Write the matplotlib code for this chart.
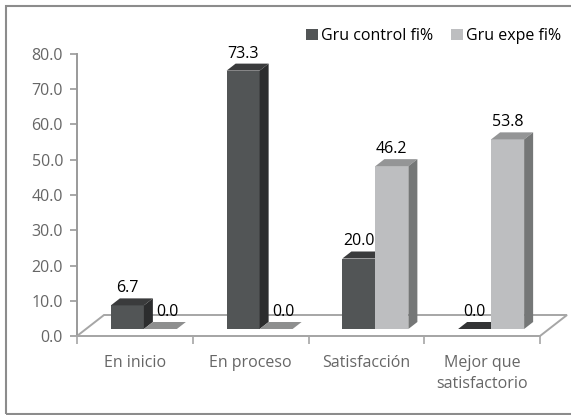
import numpy as np
import matplotlib
matplotlib.use('Agg')
import matplotlib.pyplot as plt
from matplotlib.patches import Polygon, Patch, Rectangle

# data
categories = ['En inicio', 'En proceso', 'Satisfacción', 'Mejor que\nsatisfactorio']
control = [6.7, 73.3, 20.0, 0.0]
expe = [0.0, 0.0, 46.2, 53.8]
series_names = ['Gru control fi%', 'Gru expe fi%']
yticks = [0, 10, 20, 30, 40, 50, 60, 70, 80]

plt.rcParams['font.family'] = ['Open Sans', 'DejaVu Sans']
FS = 11.5

W, H = 571, 415
fig = plt.figure(figsize=(W / 100, H / 100), dpi=100)
ax = fig.add_axes([77 / W, 1 - 336 / H, 463 / W, 282 / H])
ax.set_xlim(-0.5, 3.5)
ax.set_ylim(0, 80)

# 3d depth, in data units (floor depth = 27px x 21px)
px_x = 4 / 463.0
px_y = 80 / 282.0
FX, FY = 27 * px_x, 21 * px_y
DX, DY = FX / 3, FY / 3
bw = 33 * px_x

# floor
floor = Polygon([(-0.5, 0), (3.5, 0), (3.5 + FX, FY), (-0.5 + FX, FY)],
                closed=True, facecolor='white', edgecolor='#a6a6a6', lw=1.4,
                clip_on=False, zorder=1)
ax.add_patch(floor)

styles = [
    dict(front='#525556', top='#3a3b3c', side='#2c2d2e', flat='#333435'),
    dict(front='#bdbec0', top='#949596', side='#757777', flat='#8e8f8f'),
]

x = np.arange(len(categories))
for i in range(len(categories)):
    for k, vals in enumerate([control, expe]):
        st = styles[k]
        v = vals[i]
        x0 = x[i] - bw + k * bw + DX
        y0 = DY
        if v > 0:
            ax.bar(x0, v, bw, bottom=y0, align='edge', color=st['front'],
                   lw=0, zorder=3 + k, clip_on=False)
            top = Polygon([(x0, y0 + v), (x0 + bw, y0 + v),
                           (x0 + bw + DX, y0 + v + DY), (x0 + DX, y0 + v + DY)],
                          closed=True, facecolor=st['top'], lw=0, zorder=3 + k,
                          clip_on=False)
            side = Polygon([(x0 + bw, y0), (x0 + bw + DX, y0 + DY),
                            (x0 + bw + DX, y0 + v + DY), (x0 + bw, y0 + v)],
                           closed=True, facecolor=st['side'], lw=0, zorder=3 + k,
                           clip_on=False)
            ax.add_patch(top)
            ax.add_patch(side)
        else:
            flat = Polygon([(x0, y0), (x0 + bw, y0),
                            (x0 + bw + DX, y0 + DY), (x0 + DX, y0 + DY)],
                           closed=True, facecolor=st['flat'], lw=0, zorder=3 + k,
                           clip_on=False)
            ax.add_patch(flat)
        lx = x0 + bw / 2
        if v == 0 and k == 1:
            lx += 7 * px_x  # excel nudges these labels right
        ax.text(lx, v + y0 + DY + 0.6, '%.1f' % v, ha='center',
                va='bottom', fontsize=FS, color='black', zorder=6)

# axes styling
for s in ['top', 'right']:
    ax.spines[s].set_visible(False)
ax.spines['left'].set_color('#9a9a9a')
ax.spines['bottom'].set_color('#a6a6a6')
ax.spines['left'].set_linewidth(1.4)
ax.spines['bottom'].set_linewidth(1.4)
ax.set_yticks(yticks)
ax.set_yticklabels(['%.1f' % t for t in yticks])
ax.tick_params(axis='y', direction='out', length=5, width=1.2, color='#9a9a9a',
               labelsize=FS, labelcolor='#666666', pad=5)
ax.set_xticks([-0.5, 0.5, 1.5, 2.5, 3.5])
ax.set_xticklabels([])
ax.set_xticks(x, minor=True)
ax.set_xticklabels(categories, minor=True)
ax.tick_params(axis='x', which='major', direction='out', length=6, width=1.2,
               color='#a6a6a6')
ax.tick_params(axis='x', which='minor', length=0, labelsize=FS,
               labelcolor='#666666', pad=14)
for lab in ax.get_xticklabels(minor=True):
    lab.set_linespacing(1.35)

# legend
handles = [Patch(facecolor=styles[0]['front']), Patch(facecolor=styles[1]['front'])]
fig.legend(handles, series_names, loc='upper right', ncol=2,
           bbox_to_anchor=(561 / W, 1 - 28 / H), frameon=False, fontsize=FS,
           handlelength=0.75, handleheight=0.75, handletextpad=0.2,
           columnspacing=1.1, borderpad=0, borderaxespad=0)

# outer frame
fig.patches.append(Rectangle((6 / W, 1 - 414 / H), 1.0, 408 / H,
                             transform=fig.transFigure, fill=False,
                             edgecolor='#8c8c8c', lw=1.5))

fig.savefig('out.png', dpi=100)
